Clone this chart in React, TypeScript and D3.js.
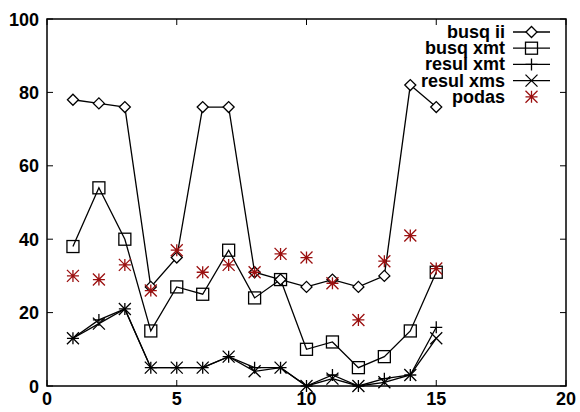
import React from 'react'
import * as d3 from 'd3'

const xs = [1, 2, 3, 4, 5, 6, 7, 8, 9, 10, 11, 12, 13, 14, 15]
const busqII = [78, 77, 76, 27, 35, 76, 76, 31, 29, 27, 29, 27, 30, 82, 76]
const busqXmt = [38, 54, 40, 15, 27, 25, 37, 24, 29, 10, 12, 5, 8, 15, 31]
const resulXmt = [13, 18, 21, 5, 5, 5, 8, 5, 5, 0, 3, 0, 2, 3, 16]
const resulXms = [13, 17, 21, 5, 5, 5, 8, 4, 5, 0, 2, 0, 1, 3, 13]
const podas = [30, 29, 33, 26, 37, 31, 33, 31, 36, 35, 28, 18, 34, 41, 32]
const xTicks = [0, 5, 10, 15, 20]
const yTicks = [0, 20, 40, 60, 80, 100]

const W = 580
const H = 412
const left = 47
const right = 566
const top = 19
const bottom = 386
const font = '"Liberation Sans", Arial, sans-serif'
const red = '#9b1010'

type Kind = 'diamond' | 'square' | 'plus' | 'cross' | 'star'

const Marker = ({x, y, kind}: {x: number, y: number, kind: Kind}) => {
  const s = 6
  if (kind === 'diamond') {
    const d = 5.5
    return <path d={`M${x - d},${y}L${x},${y - d}L${x + d},${y}L${x},${y + d}Z`} fill="white" stroke="black" strokeWidth={1.3}/>
  }
  if (kind === 'square') {
    return <rect x={x - s} y={y - s} width={2 * s} height={2 * s} fill="none" stroke="black" strokeWidth={1.3}/>
  }
  if (kind === 'plus') {
    return <path d={`M${x - s},${y}H${x + s}M${x},${y - s}V${y + s}`} stroke="black" strokeWidth={1.3}/>
  }
  if (kind === 'cross') {
    return <path d={`M${x - s},${y - s}L${x + s},${y + s}M${x - s},${y + s}L${x + s},${y - s}`} stroke="black" strokeWidth={1.3}/>
  }
  return (
    <path
      d={`M${x - s},${y}H${x + s}M${x},${y - s}V${y + s}M${x - s},${y - s}L${x + s},${y + s}M${x - s},${y + s}L${x + s},${y - s}`}
      stroke={red} strokeWidth={1.3}
    />
  )
}

const series: {name: string, values: number[], kind: Kind, line: boolean}[] = [
  {name: 'busq ii', values: busqII, kind: 'diamond', line: true},
  {name: 'busq xmt', values: busqXmt, kind: 'square', line: true},
  {name: 'resul xmt', values: resulXmt, kind: 'plus', line: true},
  {name: 'resul xms', values: resulXms, kind: 'cross', line: true},
  {name: 'podas', values: podas, kind: 'star', line: false},
]

const App = () => {
  const x = d3.scaleLinear().domain([0, 20]).range([left, right])
  const y = d3.scaleLinear().domain([0, 100]).range([bottom, top])
  const line = d3.line<number>().x((d, i) => x(xs[i])).y(d => y(d))

  return (
    <svg width={W} height={H} style={{position: 'absolute', left: 0, top: 0}}>
      <rect width={W} height={H} fill="white"/>
      {yTicks.map(t => (
        <g key={'y' + t}>
          <path d={`M${left},${y(t)}h6M${right},${y(t)}h-6`} stroke="black" strokeWidth={1}/>
          <text x={left - 8} y={y(t) + 6.5} textAnchor="end" fontFamily={font} fontWeight="bold" fontSize={18}>{t}</text>
        </g>
      ))}
      {xTicks.map(t => (
        <g key={'x' + t}>
          <path d={`M${x(t)},${bottom}v-6M${x(t)},${top}v6`} stroke="black" strokeWidth={1}/>
          <text x={x(t)} y={bottom + 19} textAnchor="middle" fontFamily={font} fontWeight="bold" fontSize={18}>{t}</text>
        </g>
      ))}
      {series.filter(s => s.line).map(s => (
        <path key={s.name + 'l'} d={line(s.values) || ''} fill="none" stroke="black" strokeWidth={1.3}/>
      ))}
      {series.map(s => (
        <g key={s.name}>
          {s.values.map((v, i) => <Marker key={i} x={x(xs[i])} y={y(v)} kind={s.kind}/>)}
        </g>
      ))}
      {series.map((s, i) => {
        const ly = 32 + i * 16.2
        return (
          <g key={s.name + 'leg'}>
            <text x={505} y={ly + 6} textAnchor="end" fontFamily={font} fontWeight="bold" fontSize={18}>{s.name}</text>
            {s.line && <path d={`M513,${ly}H550`} stroke="black" strokeWidth={1.3}/>}
            <Marker x={531.5} y={ly} kind={s.kind}/>
          </g>
        )
      })}
      <rect x={left} y={top} width={right - left} height={bottom - top} fill="none" stroke="black" strokeWidth={1.5}/>
    </svg>
  )
}

export default App
